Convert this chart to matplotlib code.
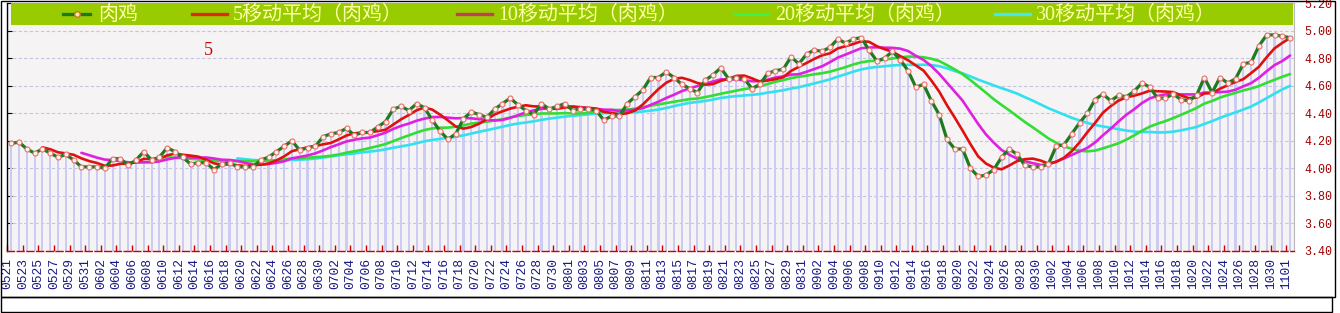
import matplotlib
matplotlib.use("Agg")
import matplotlib.pyplot as plt
from matplotlib.patches import Rectangle
from matplotlib.lines import Line2D
import numpy as np
import pandas as pd

# ---------------- data ----------------
start_date = "2023-05-21"
end_date = "2023-11-01"
price = [
    4.18, 4.19, 4.14, 4.11, 4.14, 4.11, 4.08, 4.10, 4.06, 4.01,
    4.01, 4.01, 4.00, 4.07, 4.07, 4.02, 4.06, 4.12, 4.06, 4.08,
    4.15, 4.12, 4.08, 4.03, 4.04, 4.04, 3.99, 4.03, 4.04, 4.01,
    4.01, 4.01, 4.06, 4.08, 4.12, 4.16, 4.20, 4.13, 4.15, 4.16,
    4.23, 4.25, 4.26, 4.29, 4.24, 4.26, 4.26, 4.30, 4.34, 4.43,
    4.45, 4.42, 4.47, 4.44, 4.35, 4.27, 4.21, 4.25, 4.36, 4.41,
    4.39, 4.37, 4.43, 4.47, 4.51, 4.46, 4.42, 4.39, 4.47, 4.43,
    4.45, 4.47, 4.42, 4.43, 4.43, 4.42, 4.35, 4.38, 4.38, 4.47,
    4.52, 4.57, 4.66, 4.66, 4.70, 4.66, 4.61, 4.58, 4.55, 4.64,
    4.68, 4.73, 4.65, 4.66, 4.65, 4.58, 4.61, 4.69, 4.71, 4.72,
    4.81, 4.76, 4.83, 4.86, 4.85, 4.88, 4.94, 4.91, 4.94, 4.95,
    4.86, 4.78, 4.80, 4.85, 4.79, 4.71, 4.59, 4.61, 4.49, 4.39,
    4.21, 4.14, 4.14, 4.00, 3.94, 3.95, 3.99, 4.08, 4.14, 4.10,
    4.02, 4.01, 4.01, 4.03, 4.16, 4.17, 4.25, 4.33, 4.40, 4.50,
    4.54, 4.49, 4.53, 4.52, 4.56, 4.62, 4.59, 4.51, 4.51, 4.54,
    4.50, 4.49, 4.53, 4.66, 4.55, 4.66, 4.62, 4.65, 4.76, 4.77,
    4.89, 4.97, 4.97, 4.96, 4.95,
]
ma_windows = [5, 10, 20, 30]
series_names = ["肉鸡", "5移动平均（肉鸡）", "10移动平均（肉鸡）",
                "20移动平均（肉鸡）", "30移动平均（肉鸡）"]
y_ticks = [3.40, 3.60, 3.80, 4.00, 4.20, 4.40, 4.60, 4.80, 5.00, 5.20]
annotation = "5"

dates = pd.date_range(start_date, end_date, freq="D")
date_labels = [d.strftime("%m%d") for d in dates]
s = pd.Series(price)
mas = [s.rolling(w).mean() for w in ma_windows]

# ---------------- styling ----------------
W, H = 1340, 313
fig = plt.figure(figsize=(W / 100, H / 100), dpi=100)
fig.patch.set_facecolor("white")

def fx(x):
    return x / W

def fy(y):
    return 1 - y / H

ax_left, ax_right, ax_top, ax_bot = 7.3, 1294, 3.3, 250.7
ax = fig.add_axes([fx(ax_left), fy(ax_bot), fx(ax_right - ax_left),
                   (ax_bot - ax_top) / H])
ax.set_facecolor("#f5f3f3")

x = np.arange(len(price))
ax.set_xlim(-0.5, len(price) - 0.5)
ax.set_ylim(y_ticks[0], y_ticks[-1])

# grid
for yt in y_ticks[1:]:
    ax.axhline(yt, color="#c4c4e4", lw=0.8, ls=(0, (3, 2)), zorder=1)

# bars
ax.bar(x, np.array(price) - y_ticks[0], bottom=y_ticks[0], width=0.27,
       color="#cbcbf3", zorder=2, linewidth=0)

ma_colors = ["#e01010", "#e020e0", "#33dd33", "#33e0ee"]
for m, c in zip(mas[::-1], ma_colors[::-1]):
    ax.plot(x, m, color=c, lw=1.9, zorder=3, solid_capstyle="round")

ax.plot(x, price, color="#1e7a1e", lw=2.3, zorder=4,
        marker="o", markersize=3.6, markerfacecolor="#fff0e8",
        markeredgecolor="#e87070", markeredgewidth=0.8)

# axes
ax.spines["top"].set_visible(False)
ax.spines["right"].set_color("#b8b8b8")
ax.spines["left"].set_color("black")
ax.spines["left"].set_linewidth(1.0)
ax.spines["bottom"].set_color("#cc0000")
ax.spines["bottom"].set_linestyle((0, (5, 2)))
ax.spines["bottom"].set_linewidth(1.0)

ax.set_yticks(y_ticks)
ax.set_yticklabels([f"{v:.2f}" for v in y_ticks])
ax.tick_params(axis="y", left=True, right=False, labelleft=False,
               labelright=True, direction="in", length=3.5, width=0.8,
               color="black", pad=7.5, labelcolor="#a00000", labelsize=8.4)
for t in ax.get_yticklabels():
    t.set_fontfamily("Liberation Mono")

tick_pos = x[::2] - 0.5
ax.set_xticks(tick_pos)
ax.set_xticklabels(date_labels[::2], rotation=90, fontsize=9.4,
                   color="#1a1a88", family="Liberation Mono", va="top")
ax.tick_params(axis="x", direction="in", length=4, width=1,
               color="#cc0000", pad=5.5)

ax.text(0.156, 0.811, annotation, transform=ax.transAxes, color="#cc0000",
        fontsize=13, family="Liberation Serif", ha="center", va="center")

# legend band
band = Rectangle((fx(11), fy(25)), fx(1293 - 11), 22.3 / H,
                 transform=fig.transFigure, facecolor="#99cc00",
                 edgecolor="none", zorder=10)
fig.add_artist(band)

leg_colors = ["#1e7a1e", "#dd2a10", "#c0405a", "#44ee44", "#44e8f0"]
leg_pos = [(63, 90, 98), (192, 227, 233), (457, 492, 498),
           (735, 768, 775), (995, 1030, 1036)]
ycen = 14
for name, c, (l0, l1, tx) in zip(series_names, leg_colors, leg_pos):
    fig.add_artist(Line2D([fx(l0), fx(l1)], [fy(ycen), fy(ycen)],
                          transform=fig.transFigure, color=c, lw=2.4,
                          zorder=11))
    if name == series_names[0]:
        fig.add_artist(Line2D([fx((l0 + l1) / 2)], [fy(ycen)],
                              transform=fig.transFigure, marker="o",
                              markersize=4, markerfacecolor="#ffe8c0",
                              markeredgecolor="#d07020", lw=0, zorder=12))
    fig.text(fx(tx), fy(ycen + 1), name, color="#ffffa8", fontsize=14.4,
             family=["Liberation Serif", "Noto Sans CJK SC"],
             ha="left", va="center", zorder=12)

# outer frames
fig.add_artist(Rectangle((fx(1), fy(297)), fx(1335 - 1), (297 - 1) / H,
                         transform=fig.transFigure, fill=False,
                         edgecolor="black", lw=1.0, zorder=20))
fig.add_artist(Rectangle((fx(1), fy(311.5)), fx(1332 - 1), (311.5 - 297) / H,
                         transform=fig.transFigure, fill=False,
                         edgecolor="black", lw=1.0, zorder=20))

fig.savefig("out.png", dpi=100)
